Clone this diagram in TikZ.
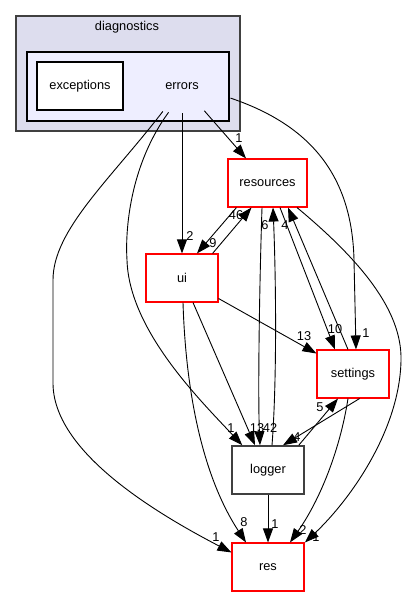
\documentclass[tikz,border=0pt]{standalone}
\usepackage{fontspec}
\setmainfont{Liberation Sans}
\usetikzlibrary{arrows.meta,shapes.geometric}
\begin{document}
\begin{tikzpicture}[x=1pt,y=-1pt,
  txt/.style={font=\fontsize{12.8}{15}\selectfont},
  box/.style={txt,draw=red,line width=1.1pt,fill=white,minimum width=72pt,minimum height=48pt,inner sep=0pt},
  graybox/.style={box,draw=black!75,line width=1.5pt},
  edge/.style={draw=black,line width=0.9pt,-{Triangle[length=14pt 0 0,width=10pt 0 0]}},
  lab/.style={txt,inner sep=0pt}]
\useasboundingbox (0,0) rectangle (411,596);
% clusters
\node[draw=black!75,line width=1.6pt,fill={rgb,255:red,221;green,221;blue,238},minimum width=224pt,minimum height=115pt,inner sep=0pt] (diag) at (128,73.5) {};
\node[txt] (diagt) at (127,27) {diagnostics};
\node[draw=black,line width=1.2pt,fill={rgb,255:red,238;green,238;blue,255},minimum width=202pt,minimum height=69pt,inner sep=0pt] (errc) at (128,86.5) {};
\node[draw=black,line width=1.2pt,fill=white,minimum width=86pt,minimum height=48pt,inner sep=0pt,txt] (exc) at (80,86) {exceptions};
\node[ellipse,minimum width=108pt,minimum height=54pt,inner sep=0pt,txt] (errors) at (182,86) {errors};
% nodes
\node[box,minimum width=79pt] (resources) at (267.5,183) {resources};
\node[box] (ui) at (182,278) {ui};
\node[box] (settings) at (353,374) {settings};
\node[graybox] (logger) at (268,470) {logger};
\node[box] (res) at (268,567) {res};
% edges from errors
\draw[edge] (errors.-48.7) -- (resources);
\draw[edge] (errors.-90) -- (ui);
\draw[edge] (errors.-14) .. controls (310,125) and (352,175) .. (354,260) -- ([xshift=3pt]settings.north);
\draw[edge] (errors.-117.5) .. controls (130,165) and (125,230) .. (127,260) .. controls (129,330) and (200,400) .. ([xshift=11pt]logger.north west);
\draw[edge] (errors.-127.6) .. controls (110,180) and (53,230) .. (53,280) -- (53,383) .. controls (53,450) and (150,510) .. ([yshift=-10pt]res.north west);
% ui <-> resources
\draw[edge] ([xshift=-6pt]ui.north east) -- ([xshift=24pt]resources.south west);
\draw[edge] ([xshift=9pt]resources.south west) -- ([xshift=15pt]ui.north);
% resources <-> logger
\draw[edge] ([xshift=-5.5pt]resources.south) .. controls (259,300) and (258,400) .. ([xshift=-8pt]logger.north);
\draw[edge] ([xshift=4pt]logger.north) .. controls (277,380) and (276,280) .. ([xshift=5.5pt]resources.south);
% resources <-> settings
\draw[edge] ([xshift=12.5pt]resources.south) -- ([xshift=-18pt]settings.north);
\draw[edge] ([xshift=-5pt]settings.north) -- ([xshift=20.5pt]resources.south);
% ui -> settings, logger, res
\draw[edge] (ui) -- (settings);
\draw[edge] ([xshift=11pt]ui.south) -- ([xshift=-13pt]logger.north);
\draw[edge] ([xshift=1pt]ui.south) .. controls (186,400) and (205,480) .. ([xshift=-22pt]res.north);
% logger <-> settings
\draw[edge] ([xshift=-6pt]logger.north east) -- ([xshift=-15pt]settings.south);
\draw[edge] ([xshift=-30pt]settings.south east) -- ([xshift=15pt]logger.north);
% to res
\draw[edge] ([xshift=-5pt]settings.south) .. controls (340,450) and (320,500) .. ([xshift=22pt]res.north);
\draw[edge] ([xshift=29.5pt]resources.south) .. controls (360,260) and (402,310) .. (401,360) .. controls (400,430) and (350,500) .. ([xshift=37pt]res.north);
\draw[edge] (logger) -- (res);
% labels
\node[lab] (l1) at (239,138) {1};
\node[lab] (l2) at (190,236) {2};
\node[lab] (l3) at (366,333) {1};
\node[lab] (l4) at (231,428) {1};
\node[lab] (l5) at (216,537) {1};
\node[lab] (l6) at (236,215) {46};
\node[lab] (l7) at (213,243) {9};
\node[lab] (l8) at (265,225) {6};
\node[lab] (l9) at (285,225) {4};
\node[lab] (l10) at (257,428) {13};
\node[lab] (l11) at (270,428) {42};
\node[lab] (l12) at (335,329) {10};
\node[lab] (l13) at (304,336) {13};
\node[lab] (l14) at (320,407) {5};
\node[lab] (l15) at (297,437) {4};
\node[lab] (l16) at (244,522) {8};
\node[lab] (l17) at (275,524) {1};
\node[lab] (l18) at (303,530) {2};
\node[lab] (l19) at (316,537) {1};
\end{tikzpicture}
\end{document}
